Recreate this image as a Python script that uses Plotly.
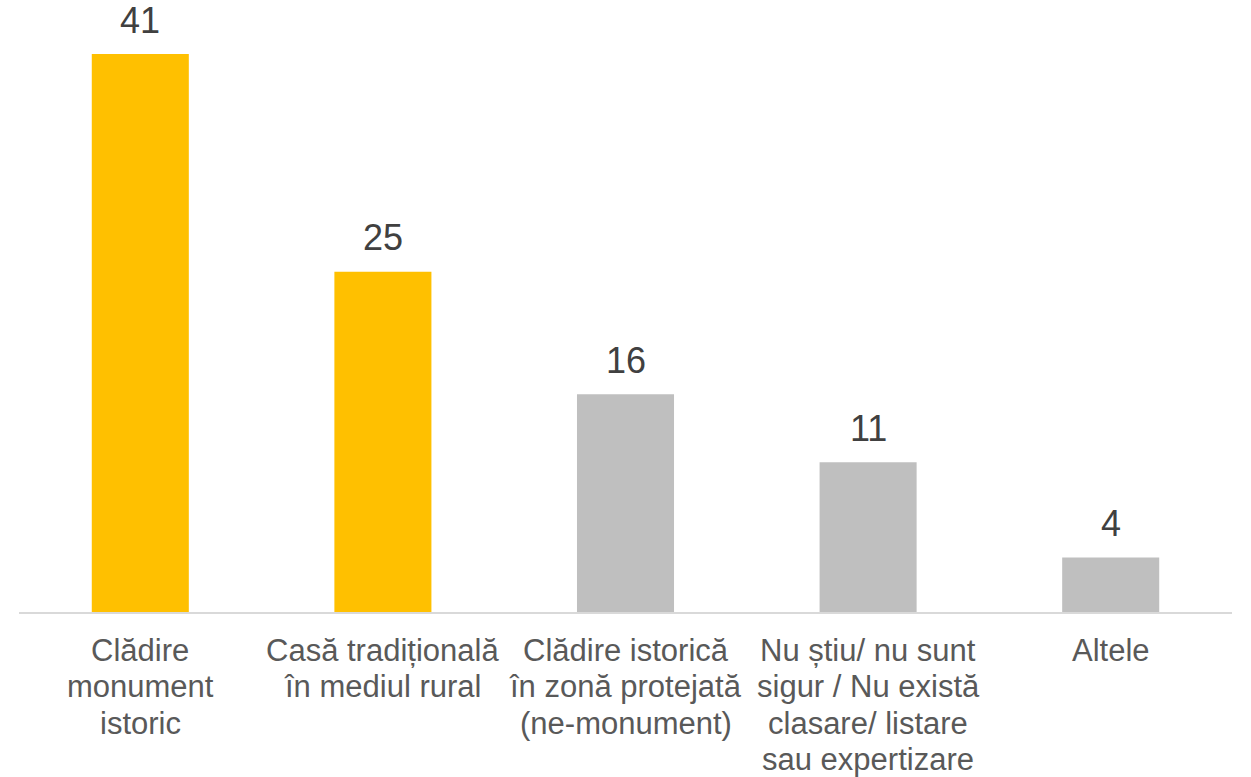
import plotly.graph_objects as go

categories = ["Clădire monument istoric", "Casă tradițională în mediul rural",
              "Clădire istorică în zonă protejată (ne-monument)",
              "Nu știu/ nu sunt sigur / Nu există clasare/ listare sau expertizare",
              "Altele"]
label_lines = [
    ["Clădire", "monument", "istoric"],
    ["Casă tradițională", "în mediul rural"],
    ["Clădire istorică", "în zonă protejată", "(ne-monument)"],
    ["Nu știu/ nu sunt", "sigur / Nu există", "clasare/ listare", "sau expertizare"],
    ["Altele"],
]
values = [41, 25, 16, 11, 4]
colors = ["#FFC000", "#FFC000", "#BFBFBF", "#BFBFBF", "#BFBFBF"]

FONT = "Liberation Sans, Arial, sans-serif"

fig = go.Figure(go.Bar(
    x=categories, y=values, marker=dict(color=colors, line=dict(width=0)),
    width=0.4, hoverinfo="skip",
))

annotations = []
for cat, v in zip(categories, values):
    annotations.append(dict(
        x=cat, y=v, xref="x", yref="y", text=str(v), showarrow=False,
        yanchor="middle", yshift=34, font=dict(family=FONT, size=36, color="#404040"),
    ))
for cat, lines in zip(categories, label_lines):
    for i, ln in enumerate(lines):
        annotations.append(dict(
            x=cat, y=0, xref="x", yref="paper", text=ln, showarrow=False,
            yanchor="middle", yshift=-(38 + 36.5 * i),
            font=dict(family=FONT, size=31, color="#595959"),
        ))

fig.update_layout(
    width=1251, height=777,
    margin=dict(l=19, r=19, t=0, b=165),
    paper_bgcolor="white", plot_bgcolor="white",
    showlegend=False,
    hovermode=False,
    annotations=annotations,
    xaxis=dict(showticklabels=False, showline=True, linecolor="#D9D9D9", linewidth=2,
               ticks="", showgrid=False, zeroline=False, fixedrange=True),
    yaxis=dict(visible=False, range=[0, 44.97], showgrid=False, zeroline=False,
               fixedrange=True),
)

fig.write_html("out.html", config={"displayModeBar": False},
               post_script="document.body.style.margin='0';")
